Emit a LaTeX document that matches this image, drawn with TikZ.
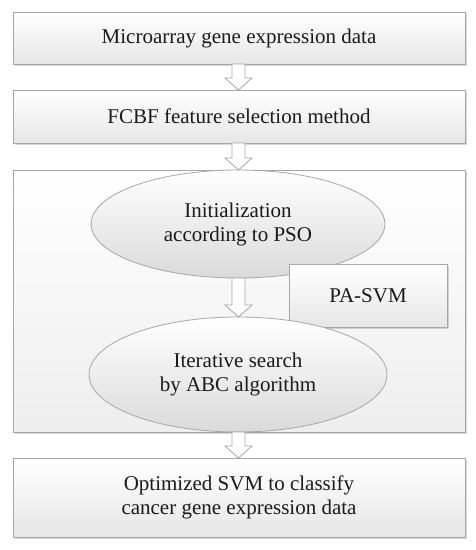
\documentclass[tikz,border=0pt]{standalone}
\usepackage{fontspec}
\setmainfont{Liberation Serif}
\usetikzlibrary{shapes.geometric,shadows,calc}
\definecolor{bord}{HTML}{A6A6A6}
\definecolor{txt}{HTML}{1A1A1A}
\definecolor{shade}{HTML}{E6E6E6}
\definecolor{oshade}{HTML}{DADADA}
\tikzset{
  box/.style={draw=bord, line width=0.8pt, top color=white, bottom color=shade,
     text=txt, font=\fontsize{21}{24}\selectfont, align=center,
     drop shadow={opacity=0.25, shadow xshift=1.5pt, shadow yshift=-1.5pt, fill=black!60}},
  bigbox/.style={draw=bord, line width=0.8pt, top color=white, bottom color=shade!70,
     drop shadow={opacity=0.25, shadow xshift=1.5pt, shadow yshift=-1.5pt, fill=black!60}},
  oval/.style={ellipse, draw=bord, line width=0.8pt, top color=white, bottom color=oshade,
     text=txt, font=\fontsize{21}{24}\selectfont, align=center, inner sep=0pt},
  arr/.style={draw=bord, line width=0.8pt, fill=white},
}
\newcommand\blockarrow[2]{%
  \path[arr] let \p1=(#1), \p2=(#2) in
    (\x1-6.5pt,\y1) -- (\x1-6.5pt,\y2+12pt) -- (\x1-13.5pt,\y2+12pt) -- (\x1,\y2)
    -- (\x1+13.5pt,\y2+12pt) -- (\x1+6.5pt,\y2+12pt) -- (\x1+6.5pt,\y1) -- cycle;}
\begin{document}
\begin{tikzpicture}[x=1pt,y=-1pt]
\useasboundingbox (0,0) rectangle (476,550);
\node[box, minimum width=452pt, minimum height=52pt] (b1) at (239,38) {Microarray gene expression data};
\node[box, minimum width=452pt, minimum height=53pt] (b2) at (239,116.5) {FCBF feature selection method};
\node[bigbox, minimum width=452pt, minimum height=262pt] (big) at (239,301) {};
\node[box, minimum width=452pt, minimum height=79pt] (b4) at (239,497.5) {Optimized SVM to classify\\cancer gene expression data};
\node[oval, minimum width=294pt, minimum height=108pt] (e1) at (238,224) {Initialization\\according to PSO};
\node[box, minimum width=158pt, minimum height=63pt] (pa) at (368,295.5) {PA-SVM};
\node[oval, minimum width=298pt, minimum height=115pt] (e2) at (238,374.5) {Iterative search\\by ABC algorithm};
\coordinate (a1s) at (238.5,64);  \coordinate (a1e) at (238.5,90);
\coordinate (a2s) at (238.5,143); \coordinate (a2e) at (238.5,170);
\coordinate (a3s) at (238.5,278); \coordinate (a3e) at (238.5,317);
\coordinate (a4s) at (238.5,432); \coordinate (a4e) at (238.5,458);
\blockarrow{a1s}{a1e}
\blockarrow{a2s}{a2e}
\blockarrow{a3s}{a3e}
\blockarrow{a4s}{a4e}
\end{tikzpicture}
\end{document}
